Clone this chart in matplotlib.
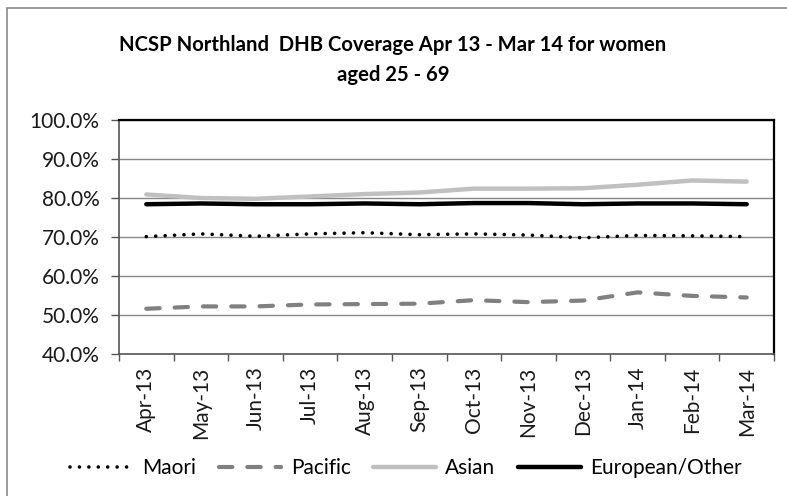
import numpy as np
import matplotlib
matplotlib.use("Agg")
import matplotlib.pyplot as plt
from matplotlib.patches import Rectangle
from matplotlib.ticker import FuncFormatter

# ==========================================
# data
# ==========================================
months = ['Apr-13', 'May-13', 'Jun-13', 'Jul-13', 'Aug-13', 'Sep-13',
          'Oct-13', 'Nov-13', 'Dec-13', 'Jan-14', 'Feb-14', 'Mar-14']

maori = [70.1, 70.8, 70.2, 70.8, 71.1, 70.6, 70.8, 70.5, 69.8, 70.4, 70.3, 70.1]
pacific = [51.6, 52.2, 52.2, 52.7, 52.8, 52.9, 53.8, 53.3, 53.7, 55.8, 54.9, 54.5]
asian = [80.9, 80.0, 79.8, 80.4, 81.0, 81.4, 82.4, 82.4, 82.5, 83.4, 84.5, 84.2]
european = [78.4, 78.6, 78.4, 78.4, 78.6, 78.4, 78.7, 78.7, 78.4, 78.6, 78.6, 78.4]

series_names = ['Maori', 'Pacific', 'Asian', 'European/Other']
title = 'NCSP Northland  DHB Coverage Apr 13 - Mar 14 for women\naged 25 - 69'

# ==========================================
# style
# ==========================================
plt.rcParams['font.family'] = ['Lato', 'DejaVu Sans']
W, H = 787, 496
fig = plt.figure(figsize=(W / 100, H / 100), dpi=100)
fig.patch.set_facecolor('white')

# outer chart border (only left / top are inside the image)
fig.add_artist(Rectangle((7 / W, -0.05), 1.2, 1 - 8 / H + 0.05,
                         transform=fig.transFigure, fill=False,
                         edgecolor='#8a8a8a', linewidth=1.2))

ax = fig.add_axes([119 / W, 1 - 354 / H, (774 - 119) / W, (354 - 120) / H])

x = np.arange(len(months))
ax.plot(x, maori, color='black', linewidth=2.6, linestyle=(0, (0.01, 2.6)),
        dash_capstyle='round', label=series_names[0])
ax.plot(x, pacific, color='#808080', linewidth=3.0, linestyle=(0, (3.2, 3.6)),
        dash_capstyle='round', label=series_names[1])
ax.plot(x, asian, color='#c0c0c0', linewidth=3.2, solid_capstyle='round',
        label=series_names[2])
ax.plot(x, european, color='black', linewidth=3.2, solid_capstyle='round',
        label=series_names[3])

ax.set_xlim(-0.5, len(months) - 0.5)
ax.set_ylim(40, 100)
ax.set_yticks(np.arange(40, 101, 10))
ax.yaxis.set_major_formatter(FuncFormatter(lambda v, p: f'{v:.1f}%'))
ax.set_xticks(x)
ax.set_xticklabels(months, rotation=90)
ax.set_xticks(np.arange(-0.5, len(months), 1), minor=True)

ax.grid(axis='y', color='#878787', linewidth=1.0)
ax.set_axisbelow(True)

for side in ['top', 'right']:
    ax.spines[side].set_color('black')
    ax.spines[side].set_linewidth(1.6)
for side in ['left', 'bottom']:
    ax.spines[side].set_color('#555555')
    ax.spines[side].set_linewidth(1.2)

ax.tick_params(axis='x', which='major', length=0, pad=9, labelsize=15,
               labelcolor='#1a1a1a')
ax.tick_params(axis='x', which='minor', length=5, width=1, color='#555555',
               direction='out')
ax.tick_params(axis='y', length=6, width=1, color='#555555', direction='out',
               pad=8, labelsize=15, labelcolor='#1a1a1a')

fig.text(393 / W, 1 - 60 / H, title, ha='center', va='center',
         fontsize=14.6, fontweight='bold', color='black', linespacing=1.6)

fig.legend(loc='center', bbox_to_anchor=(406 / W, 1 - 468 / H), ncol=4,
           frameon=False, fontsize=15, handlelength=3.0,
           handletextpad=0.45, columnspacing=1.1, borderaxespad=0)

fig.savefig('out.png', dpi=100, facecolor='white')
